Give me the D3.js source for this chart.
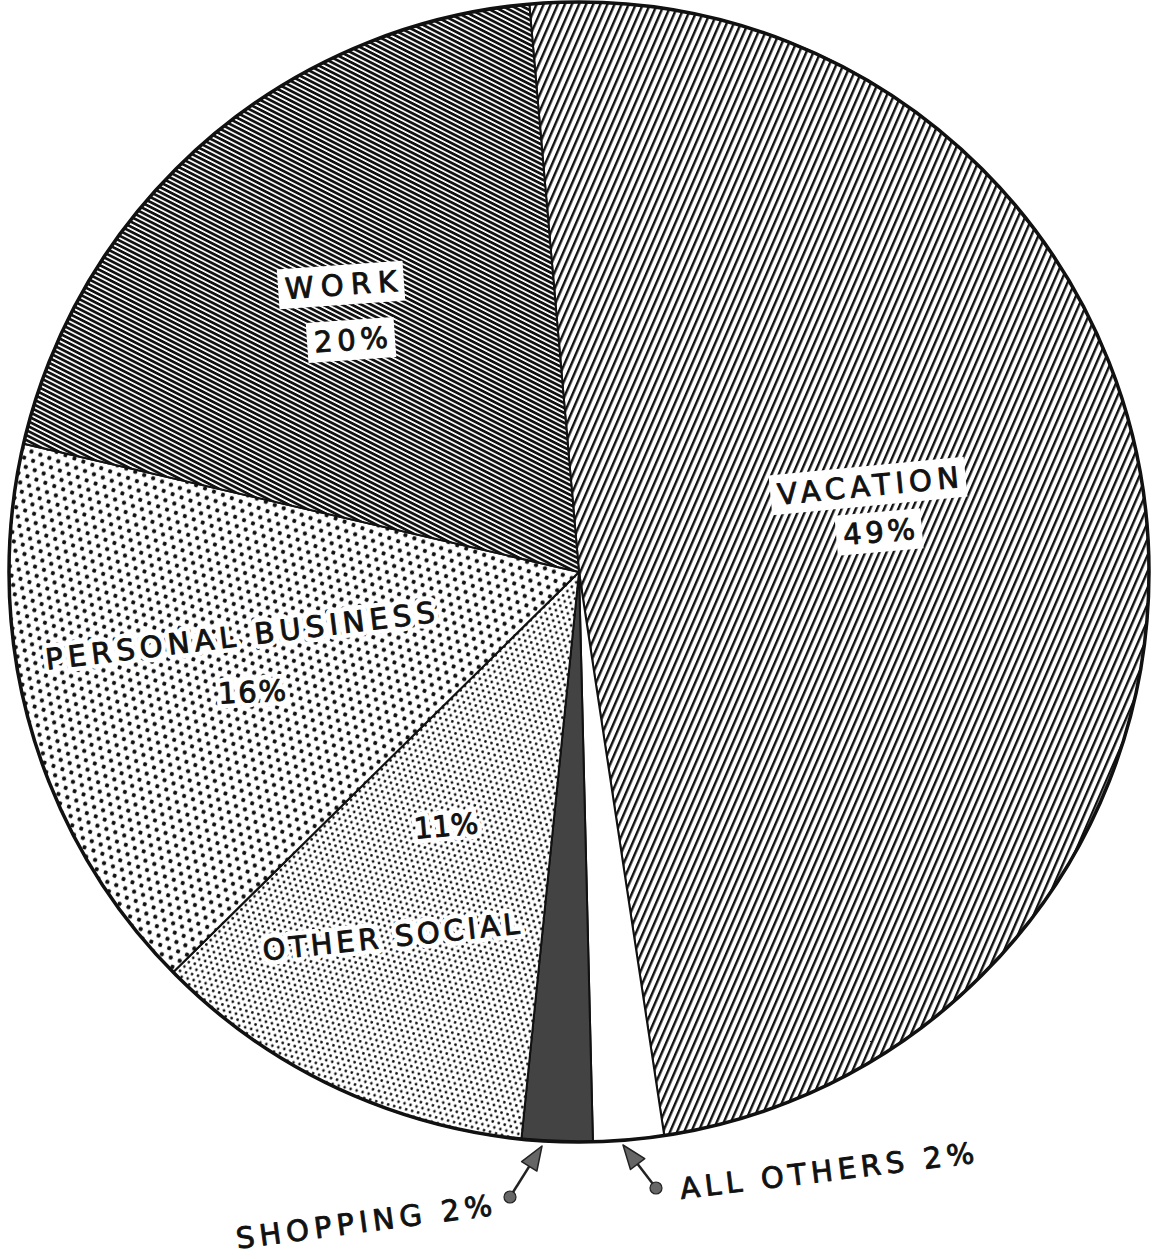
<!DOCTYPE html>
<html><head><meta charset="utf-8">
<script src="https://cdn.jsdelivr.net/npm/d3@7"></script>
<style>body{margin:0;background:#fff}</style>
</head><body>
<svg id="c" width="1154" height="1259"></svg>
<script>
// ---- data ----
const categories = ["VACATION", "ALL OTHERS", "SHOPPING", "OTHER SOCIAL", "PERSONAL BUSINESS", "WORK"];
const values = [49, 2, 2, 11, 16, 20];
const valueLabels = ["49%", "2%", "2%", "11%", "16%", "20%"];

// ---- layout / style ----
const W = 1154, H = 1259;
const cx = 579, cy = 572, R = 570;
const startDeg = -5;
const fills = ["url(#pVac)", "#ffffff", "#434343", "url(#pFine)", "url(#pCoarse)", "url(#pWork)"];

const svg = d3.select("#c");
const defs = svg.append("defs");

// Vacation: steep diagonal lines
const pv = defs.append("pattern").attr("id", "pVac").attr("patternUnits", "userSpaceOnUse")
  .attr("width", 20).attr("height", 6.5).attr("patternTransform", "rotate(-66.5)");
pv.append("rect").attr("width", 20).attr("height", 6.5).attr("fill", "#fff");
pv.append("rect").attr("y", 0).attr("width", 20).attr("height", 2.4).attr("fill", "#111");

// Work: dense shallow lines
const pw = defs.append("pattern").attr("id", "pWork").attr("patternUnits", "userSpaceOnUse")
  .attr("width", 20).attr("height", 4.4).attr("patternTransform", "rotate(27)");
pw.append("rect").attr("width", 20).attr("height", 4.4).attr("fill", "#fff");
pw.append("rect").attr("width", 20).attr("height", 2.7).attr("fill", "#111");

function dotPattern(id, s, r, rot) {
  const h = s * Math.sqrt(3);
  const p = defs.append("pattern").attr("id", id).attr("patternUnits", "userSpaceOnUse")
    .attr("width", s).attr("height", h).attr("patternTransform", `rotate(${rot})`);
  p.append("rect").attr("width", s).attr("height", h).attr("fill", "#fff");
  [[0,0],[s,0],[0,h],[s,h],[s/2,h/2]].forEach(([x,y]) =>
    p.append("circle").attr("cx", x).attr("cy", y).attr("r", r).attr("fill", "#111"));
}
dotPattern("pCoarse", 9.5, 2.1, 20);
dotPattern("pFine", 6.2, 1.35, 15);

const g = svg.append("g").attr("transform", `translate(${cx},${cy})`);
const pie = d3.pie().sort(null).value(d => d)
  .startAngle(startDeg * Math.PI / 180).endAngle(startDeg * Math.PI / 180 + 2 * Math.PI);
const arcs = pie(values);
const arc = d3.arc().innerRadius(0).outerRadius(R);

g.selectAll("path.slice").data(arcs).join("path")
  .attr("class", "slice")
  .attr("d", arc)
  .attr("fill", (d, i) => fills[i])
  .attr("stroke", "#111").attr("stroke-width", 2).attr("stroke-linejoin", "round");

g.append("circle").attr("r", R).attr("fill", "none").attr("stroke", "#111").attr("stroke-width", 3.5);

// ---- labels ----
const font = "'DejaVu Sans', Lato, sans-serif";
// [text, x, y, rotation, width (null = natural), style]  style: box | halo | plain
const labelLayout = [
  [categories[5], 341, 285, -4, 112, "box"],
  [valueLabels[5], 351, 340, -4, 74, "box"],
  [categories[0], 868, 486, -5.5, 182, "box"],
  [valueLabels[0], 879, 532, -5, 72, "box"],
  [categories[4], 240, 636, -7, 392, "halo"],
  [valueLabels[4], 252, 692, -3, 68, "halo"],
  [valueLabels[3], 446, 826, -5, null, "halo"],
  [categories[3], 391, 937, -6, 258, "halo"],
  [categories[1] + " " + valueLabels[1], 827, 1171, -7, 296, "plain"],
  [categories[2] + " " + valueLabels[2], 364, 1222, -7.5, 258, "plain"]
];

function addText(sel, t, w) {
  const txt = sel.append("text")
    .attr("text-anchor", "middle").attr("dominant-baseline", "central")
    .attr("font-family", font).attr("font-weight", 400).attr("font-size", 29)
    .text(t);
  if (w) txt.attr("textLength", w).attr("lengthAdjust", "spacing");
  return txt;
}

labelLayout.forEach(([t, x, y, rot, w, style]) => {
  const lg = svg.append("g").attr("transform", `translate(${x},${y}) rotate(${rot})`);
  if (style === "halo") {
    addText(lg, t, w).attr("fill", "#fff").attr("stroke", "#fff")
      .attr("stroke-width", 10).attr("stroke-linejoin", "round");
  }
  const txt = addText(lg, t, w).attr("fill", "#111")
    .attr("stroke", "#111").attr("stroke-width", 0.9).attr("stroke-linejoin", "round");
  const bw = w || txt.node().getComputedTextLength();
  if (style === "box") {
    const pad = 7;
    lg.insert("rect", "text")
      .attr("x", -bw / 2 - pad).attr("y", -20).attr("width", bw + 2 * pad).attr("height", 40)
      .attr("fill", "#fff");
  }
});

// ---- pointer arrows ----
// [dotX, dotY, tipX, tipY]
const pointers = [
  [510, 1197, 542, 1146],
  [656, 1188, 623, 1145]
];
pointers.forEach(([x0, y0, x1, y1]) => {
  const ang = Math.atan2(y1 - y0, x1 - x0);
  const L = 24, hw = 9;
  const bx = x1 - L * Math.cos(ang), by = y1 - L * Math.sin(ang);
  svg.append("line").attr("x1", x0).attr("y1", y0).attr("x2", bx).attr("y2", by)
    .attr("stroke", "#222").attr("stroke-width", 2.5);
  const px = -Math.sin(ang), py = Math.cos(ang);
  svg.append("path")
    .attr("d", `M${x1},${y1}L${bx + px * hw},${by + py * hw}L${bx - px * hw},${by - py * hw}Z`)
    .attr("fill", "#666").attr("stroke", "#222").attr("stroke-width", 1.5).attr("stroke-linejoin", "round");
  svg.append("circle").attr("cx", x0).attr("cy", y0).attr("r", 6)
    .attr("fill", "#666").attr("stroke", "#222").attr("stroke-width", 1.2);
});
</script>
</body></html>
